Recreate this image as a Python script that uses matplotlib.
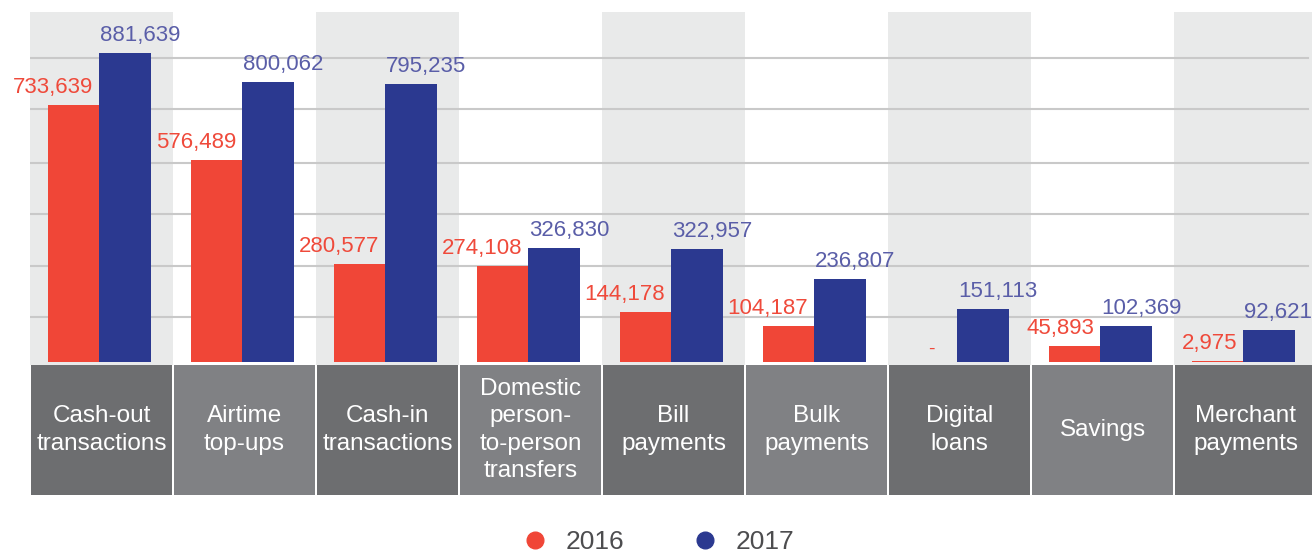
import numpy as np
import matplotlib
matplotlib.use("Agg")
import matplotlib.pyplot as plt
from matplotlib.lines import Line2D

plt.rcParams['font.family'] = ['Liberation Sans', 'DejaVu Sans']

categories = ["Cash-out\ntransactions", "Airtime\ntop-ups", "Cash-in\ntransactions",
              "Domestic\nperson-\nto-person\ntransfers", "Bill\npayments", "Bulk\npayments",
              "Digital\nloans", "Savings", "Merchant\npayments"]
values_2016 = [733639, 576489, 280577, 274108, 144178, 104187, 0, 45893, 2975]
values_2017 = [881639, 800062, 795235, 326830, 322957, 236807, 151113, 102369, 92621]
grid_values = [129000, 275000, 422000, 568000, 723000, 868000]

RED = '#f04637'
BLUE = '#2b3990'
RED_TXT = '#ef4a3b'
BLUE_TXT = '#5a5ea8'
BG = '#e9eaea'
BOX_DARK = '#6d6e70'
BOX_LIGHT = '#808184'

W, H = 1312, 553


def px_rect(l, t, r, b):
    return [l / W, 1 - b / H, (r - l) / W, (b - t) / H]


fig = plt.figure(figsize=(W / 100, H / 100), dpi=100)

# main bar area (runs a little past the right edge, like the original)
ax = fig.add_axes(px_rect(30, 12, 1317, 365))
n = len(categories)
x = np.arange(n)
ax.set_xlim(-0.5, n - 0.5)
ax.set_ylim(-8600, 1000000)
for i in range(0, n, 2):
    ax.axvspan(i - 0.5, i + 0.5, color=BG, lw=0, zorder=0)
for g in grid_values:
    ax.axhline(g, xmin=0, xmax=0.993, color='#c9c9c9', lw=1.5, zorder=1)

bw = 0.36
shift = -0.015  # pairs sit a touch left of centre in the original
ax.bar(x + shift - bw / 2, values_2016, bw, color=RED, zorder=2)
ax.bar(x + shift + bw / 2, values_2017, bw, color=BLUE, zorder=2)

for i in range(n):
    v16 = values_2016[i]
    if v16 > 0:
        ax.annotate(f"{v16:,}", (x[i] + shift, v16), xytext=(-4.5, 5), textcoords='offset points',
                    ha='right', va='bottom', color=RED_TXT, fontsize=16)
    else:
        ax.annotate("-", (x[i] + shift - bw / 2, 0), xytext=(0, 3), textcoords='offset points',
                    ha='center', va='bottom', color=RED_TXT, fontsize=14)
    v17 = values_2017[i]
    ax.annotate(f"{v17:,}", (x[i] + shift, v17), xytext=(0.5, 5), textcoords='offset points',
                ha='left', va='bottom', color=BLUE_TXT, fontsize=16)

for s in ax.spines.values():
    s.set_visible(False)
ax.set_xticks([])
ax.set_yticks([])

# category label boxes
bx = fig.add_axes(px_rect(30, 365, 1317, 495))
bx.set_xlim(-0.5, n - 0.5)
bx.set_ylim(0, 1)
gap = 0.006
for i in range(n):
    col = BOX_DARK if i % 2 == 0 else BOX_LIGHT
    bx.axvspan(i - 0.5 + gap, i + 0.5 - gap, color=col, lw=0)
    bx.text(x[i], 0.5, categories[i], ha='center', va='center', color='white',
            fontsize=17.5, linespacing=1.3)
bx.axis('off')

# legend
handles = [Line2D([], [], marker='o', ls='', color=RED, markersize=12),
           Line2D([], [], marker='o', ls='', color=BLUE, markersize=12)]
leg = fig.legend(handles, ['2016', '2017'], loc='center left', bbox_to_anchor=(0.401, 0.02),
                 ncol=2, frameon=False, fontsize=19, handlelength=0.7, handletextpad=0.8,
                 columnspacing=2.7, borderpad=0, borderaxespad=0)
for t in leg.get_texts():
    t.set_color('#4d4d4f')

fig.savefig('out.png', dpi=100)
